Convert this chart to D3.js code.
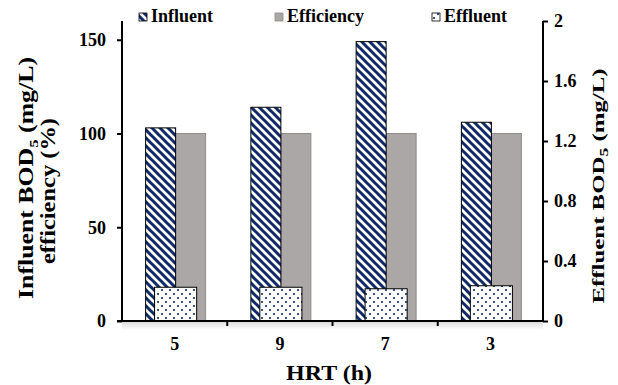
<!DOCTYPE html>
<html><head><meta charset="utf-8">
<script src="https://cdn.jsdelivr.net/npm/d3@7"></script>
<style>body{margin:0;background:#fff}svg{display:block}svg text{font-family:"Liberation Serif","Times New Roman",Times,serif;font-weight:bold}</style>
</head><body><div id="chart"></div>
<script>
const categories = ["5", "9", "7", "3"];
const influent = [103, 114, 149, 106];
const efficiency = [100, 100, 100, 100];
const effluent = [0.225, 0.225, 0.215, 0.235];
const leftTicks = [0, 50, 100, 150];
const rightTicks = [0, 0.4, 0.8, 1.2, 1.6, 2];

const W = 618, H = 385;
const m = {l: 122, r: 75, t: 21, b: 64};
const svg = d3.select("#chart").append("svg").attr("width", W).attr("height", H);
const defs = svg.append("defs");
const navy = "#0f2a66";

const stripe = defs.append("pattern").attr("id", "stripe").attr("patternUnits", "userSpaceOnUse")
  .attr("width", 8).attr("height", 8);
stripe.append("rect").attr("width", 8).attr("height", 8).attr("fill", "#fff");
stripe.append("path").attr("d", "M-2,-2 L10,10 M-6,2 L6,14 M2,-6 L14,6")
  .attr("stroke", navy).attr("stroke-width", 3);

const dots = defs.append("pattern").attr("id", "dots").attr("patternUnits", "userSpaceOnUse")
  .attr("width", 8).attr("height", 8);
dots.append("rect").attr("width", 8).attr("height", 8).attr("fill", "#fff");
dots.append("circle").attr("cx", 2).attr("cy", 2).attr("r", 1.1).attr("fill", navy);
dots.append("circle").attr("cx", 6).attr("cy", 6).attr("r", 1.1).attr("fill", navy);

const shade = defs.append("linearGradient").attr("id", "shade").attr("x1", 0).attr("x2", 0).attr("y1", 0).attr("y2", 1);
shade.append("stop").attr("offset", 0).attr("stop-color", "#d8d8d8");
shade.append("stop").attr("offset", 1).attr("stop-color", "#fff");

const x = d3.scaleBand().domain(categories).range([m.l, W - m.r]).padding(0);
const yL = d3.scaleLinear().domain([0, 160]).range([H - m.b, m.t]);
const yR = d3.scaleLinear().domain([0, 2]).range([H - m.b, m.t]);
const barW = x.bandwidth() * 0.285;
const effW = x.bandwidth() * 0.40;

svg.append("rect").attr("x", m.l).attr("y", H - m.b).attr("width", W - m.r - m.l).attr("height", 9).attr("fill", "url(#shade)");

const g = svg.append("g");
g.selectAll(".eff").data(categories).join("rect")
  .attr("x", (d) => x(d) + x.bandwidth() / 2 + 1)
  .attr("width", barW)
  .attr("y", (d, i) => yL(efficiency[i]))
  .attr("height", (d, i) => yL(0) - yL(efficiency[i]))
  .attr("fill", "#aba7a7").attr("stroke", "#8f8b8b").attr("stroke-width", 1);
g.selectAll(".inf").data(categories).join("rect")
  .attr("x", (d) => x(d) + x.bandwidth() / 2 + 1 - barW)
  .attr("width", barW)
  .attr("y", (d, i) => yL(influent[i]))
  .attr("height", (d, i) => yL(0) - yL(influent[i]))
  .attr("fill", "url(#stripe)").attr("stroke", "#000").attr("stroke-width", 1);
g.selectAll(".efl").data(categories).join("rect")
  .attr("x", (d) => x(d) + x.bandwidth() / 2 + 1 - effW / 2)
  .attr("width", effW)
  .attr("y", (d, i) => yR(effluent[i]))
  .attr("height", (d, i) => yR(0) - yR(effluent[i]))
  .attr("fill", "url(#dots)").attr("stroke", "#000").attr("stroke-width", 1);

const axL = svg.append("g").attr("transform", `translate(${m.l},0)`)
  .call(d3.axisLeft(yL).tickValues(leftTicks).tickSize(5).tickPadding(11).tickFormat(d3.format("d")));
const axR = svg.append("g").attr("transform", `translate(${W - m.r},0)`)
  .call(d3.axisRight(yR).tickValues(rightTicks).tickSize(5).tickPadding(6).tickFormat((d) => d === 0 || d === 2 ? String(d) : d3.format(".1f")(d)));
const axB = svg.append("g").attr("transform", `translate(0,${H - m.b})`)
  .call(d3.axisBottom(x).tickSize(0).tickPadding(16));
svg.append("g").selectAll("line").data(categories.slice(1)).join("line")
  .attr("x1", (d) => x(d)).attr("x2", (d) => x(d))
  .attr("y1", H - m.b).attr("y2", H - m.b + 5).attr("stroke", "#000").attr("stroke-width", 2);
[axL, axR, axB].forEach((a) => {
  a.attr("font-family", null).attr("font-size", null);
  a.select(".domain").attr("stroke", "#000").attr("stroke-width", 2);
  a.selectAll(".tick line").attr("stroke", "#000").attr("stroke-width", 2);
  a.selectAll("text").attr("font-size", 18).attr("fill", "#000");
});
axL.select(".domain").attr("d", `M-5,${yL(0)}H0V${m.t}`);
axR.select(".domain").attr("d", `M0,${m.t}V${yR(0)}`);
axB.select(".domain").attr("d", `M${m.l - 5},0H${W - m.r}`);

const lt = svg.append("text").attr("transform", `translate(33,178) rotate(-90)`)
  .attr("text-anchor", "middle").attr("font-size", 20).attr("data-len", 242);
lt.append("tspan").text("Influent BOD");
lt.append("tspan").attr("font-size", 13).attr("dy", 5).text("5");
lt.append("tspan").attr("dy", -5).text(" (mg/L)");
svg.append("text").attr("transform", `translate(55,191) rotate(-90)`)
  .attr("text-anchor", "middle").attr("font-size", 20).attr("data-len", 146)
  .text("efficiency (%)");

const rt = svg.append("text").attr("transform", `translate(604,186) rotate(-90)`)
  .attr("text-anchor", "middle").attr("font-size", 17).attr("data-len", 235);
rt.append("tspan").text("Effluent BOD");
rt.append("tspan").attr("font-size", 12).attr("dy", 4).text("5");
rt.append("tspan").attr("dy", -4).text(" (mg/L)");

svg.append("text").attr("x", 329).attr("y", 380).attr("text-anchor", "middle")
  .attr("font-size", 21).attr("data-len", 86).text("HRT (h)");

const legend = [
  {name: "Influent", fill: "url(#stripe)", stroke: "#000", x: 139},
  {name: "Efficiency", fill: "#aba7a7", stroke: "#8f8b8b", x: 275},
  {name: "Effluent", fill: "url(#dots)", stroke: "#000", x: 432}
];
const lg = svg.append("g").selectAll("g").data(legend).join("g")
  .attr("transform", (d) => `translate(${d.x},0)`);
lg.append("rect").attr("y", 13).attr("width", 8).attr("height", 8).attr("fill", (d) => d.fill).attr("stroke", (d) => d.stroke).attr("stroke-width", 0.8);
lg.append("text").attr("x", 12).attr("y", 22).attr("font-size", 18).text((d) => d.name);

svg.selectAll("text[data-len]").each(function () {
  d3.select(this).attr("textLength", +this.getAttribute("data-len")).attr("lengthAdjust", "spacingAndGlyphs");
});
</script></body></html>
